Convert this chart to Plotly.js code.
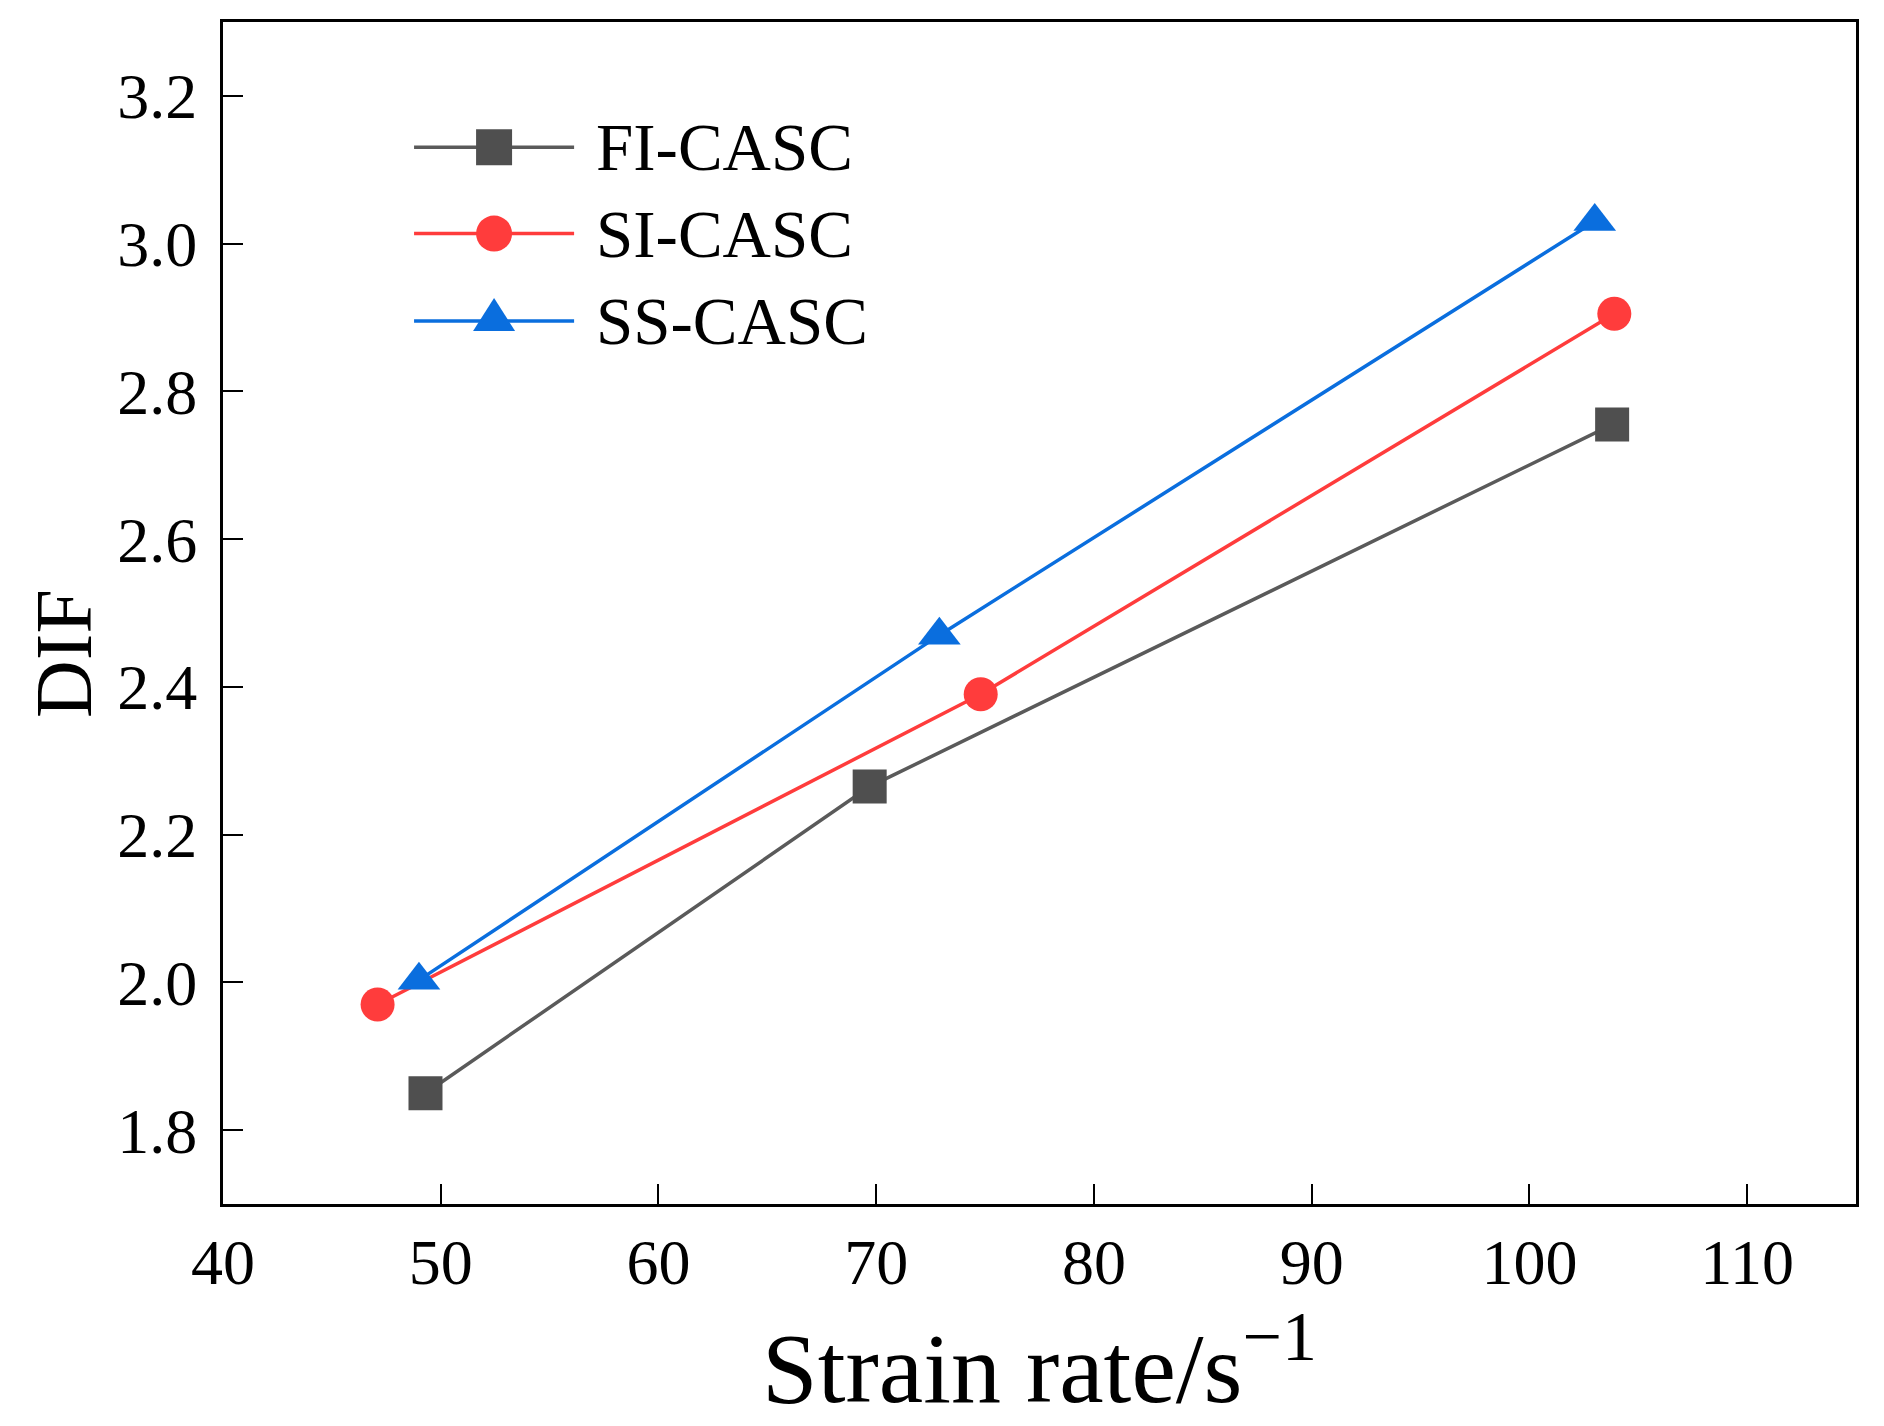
<!DOCTYPE html>
<html>
<head>
<meta charset="utf-8">
<script src="https://cdn.plot.ly/plotly-3.0.1.min.js"></script>
<style>
html,body{margin:0;padding:0;background:#fff;}
#chart{width:1884px;height:1426px;}
</style>
</head>
<body>
<div id="chart"></div>
<script>
// ---- data ----
const seriesNames = ["FI-CASC", "SI-CASC", "SS-CASC"];
const fiX = [49.3, 69.7, 103.8];
const fiY = [1.85, 2.265, 2.755];
const siX = [47.1, 74.8, 103.9];
const siY = [1.97, 2.39, 2.905];
const ssX = [49.0, 72.9, 103.0];
const ssY = [2.003, 2.47, 3.03];

const colors = ["#4f4f4f", "#ff3c3c", "#0a6ede"];
const lineColors = ["#5a5a5a", "#ff3c3c", "#0a6ede"];
const symbols = ["square", "circle", "triangle-up"];
const sizes = [34, 34, 37];

const FONT = "'Liberation Serif', 'Times New Roman', serif";

const xs = [fiX, siX, ssX];
const ys = [fiY, siY, ssY];

const traces = seriesNames.map((n, i) => ({
  type: "scatter",
  mode: "lines+markers",
  name: n,
  x: xs[i],
  y: ys[i],
  line: {color: lineColors[i], width: 3.5},
  marker: {symbol: symbols[i], size: sizes[i], color: colors[i], line: {width: 0}},
  showlegend: false,
  cliponaxis: false
}));

// ---- custom legend (paper coordinates) ----
const legX0 = 0.117, legX1 = 0.215, legMark = 0.166, legText = 0.227;
const legY = [0.894, 0.821, 0.747];
const shapes = [];
const annotations = [];
seriesNames.forEach((n, i) => {
  shapes.push({type: "line", xref: "paper", yref: "paper", x0: legX0, x1: legX1, y0: legY[i], y1: legY[i],
    line: {color: lineColors[i], width: 3.5}});
  const common = {xref: "paper", yref: "paper", xsizemode: "pixel", ysizemode: "pixel",
    xanchor: legMark, yanchor: legY[i], fillcolor: colors[i], line: {width: 0}};
  if (symbols[i] === "square") {
    shapes.push(Object.assign({type: "rect", x0: -18, x1: 18, y0: -18, y1: 18}, common));
  } else if (symbols[i] === "circle") {
    shapes.push(Object.assign({type: "circle", x0: -18, x1: 18, y0: -18, y1: 18}, common));
  } else {
    shapes.push(Object.assign({type: "path", path: "M-21,-10 L21,-10 L0,23 Z"}, common));
  }
  annotations.push({xref: "paper", yref: "paper", x: legText, y: legY[i], xanchor: "left", yanchor: "middle",
    text: n, showarrow: false, font: {family: FONT, size: 67, color: "#000"}});
});

// y-axis title placed as rotated text (slightly below centre, as in the reference)
annotations.push({xref: "paper", yref: "paper", x: -0.0975, y: 0.466, xanchor: "center", yanchor: "middle",
  textangle: -90, text: "DIF", showarrow: false, font: {family: FONT, size: 80, color: "#000"}});

const layout = {
  width: 1884,
  height: 1426,
  margin: {l: 223, r: 28, t: 22, b: 222},
  paper_bgcolor: "#fff",
  plot_bgcolor: "#fff",
  font: {family: FONT, color: "#000"},
  showlegend: false,
  xaxis: {
    range: [40, 115],
    tick0: 40, dtick: 10,
    ticks: "inside", ticklen: 20, tickwidth: 2, tickcolor: "#000",
    showline: true, linecolor: "#000", linewidth: 3, mirror: true,
    showgrid: false, zeroline: false,
    tickfont: {family: FONT, size: 64, color: "#000"},
    ticklabelstandoff: 0,
    title: {text: "Strain rate/s<sup>−1</sup>", font: {family: FONT, size: 100, color: "#000"}, standoff: 6}
  },
  yaxis: {
    range: [1.7, 3.3],
    tick0: 1.8, dtick: 0.2, tickformat: ".1f",
    ticks: "inside", ticklen: 20, tickwidth: 2, tickcolor: "#000",
    showline: true, linecolor: "#000", linewidth: 3, mirror: true,
    showgrid: false, zeroline: false,
    tickfont: {family: FONT, size: 64, color: "#000"},
    ticklabelstandoff: 10
  },
  shapes: shapes,
  annotations: annotations
};

Plotly.newPlot("chart", traces, layout, {staticPlot: true, displayModeBar: false});
</script>
</body>
</html>
